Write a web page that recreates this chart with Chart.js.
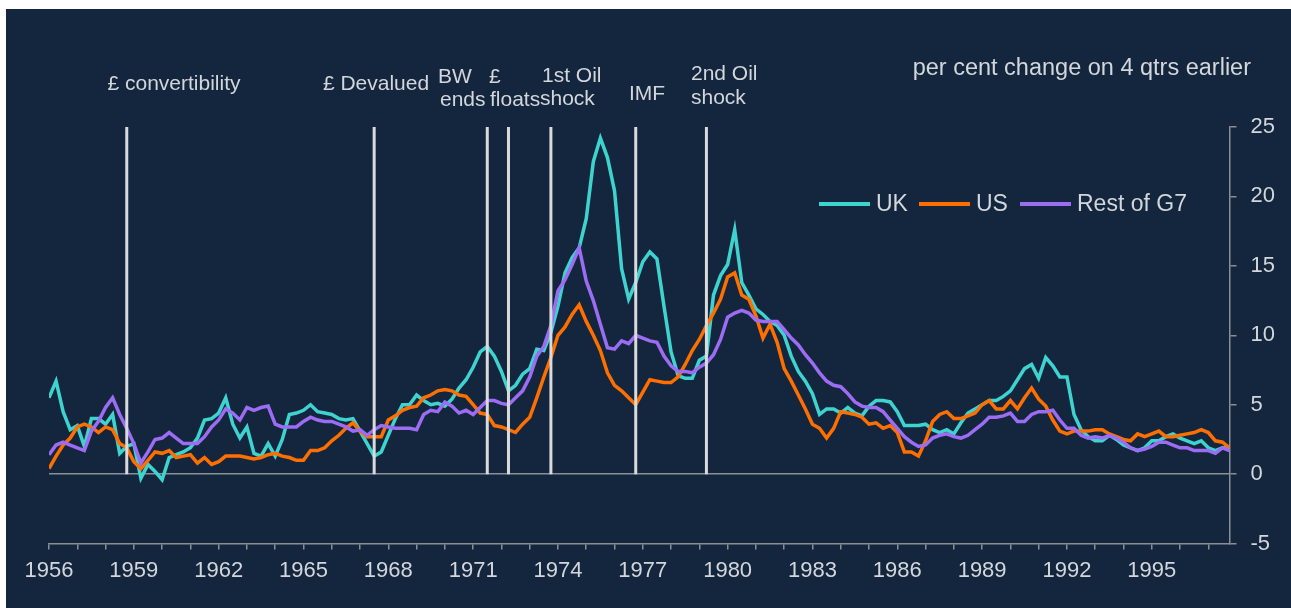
<!DOCTYPE html>
<html>
<head>
<meta charset="utf-8">
<title>Inflation: UK, US and rest of G7</title>
<script src="https://cdn.jsdelivr.net/npm/chart.js@4.4.1/dist/chart.umd.min.js"></script>
<style>
  html, body { margin: 0; padding: 0; background: #ffffff; }
  #panel { position: absolute; left: 6px; top: 9px; width: 1285px; height: 599px; background: #13263e; }
</style>
</head>
<body>
<div id="panel"><canvas id="chart-area" width="1285" height="599"></canvas></div>
<script>
// quarterly data, 1956 Q1 to 1997 Q4, per cent change on 4 qtrs earlier
var startYear = 1956;

var ukValues = [
  5.5, 6.7, 4.5, 3.2,   3.5, 2.0, 4.0, 4.0,   3.6, 4.3, 1.5, 2.0,   2.2, -0.3, 0.7, 0.2,
  -0.4, 1.2, 1.4, 1.6,  1.9, 2.6, 3.9, 4.0,   4.4, 5.5, 3.6, 2.6,   3.4, 1.5, 1.3, 2.2,
  1.3, 2.5, 4.3, 4.4,   4.6, 5.0, 4.5, 4.4,   4.3, 4.0, 3.9, 4.0,   3.1, 2.2, 1.3, 1.6,
  2.8, 4.0, 5.0, 5.0,   5.7, 5.3, 5.0, 5.1,   4.9, 5.4, 6.2, 6.8,   7.7, 8.8, 9.2, 8.5,
  7.4, 6.0, 6.4, 7.2,   7.6, 9.0, 8.9, 10.2,  12.1, 14.5, 15.6, 16.3, 18.4, 22.5, 24.2, 22.8,
  20.4, 14.8, 12.6, 13.8, 15.3, 16.0, 15.5, 12.1, 8.8, 7.1, 6.9, 6.9, 8.2, 8.5, 12.9, 14.3,
  15.1, 17.6, 13.8, 12.9, 11.9, 11.5, 11.0, 10.7, 10.0, 8.5, 7.4, 6.7, 5.8, 4.3, 4.7, 4.7,
  4.4, 4.8, 4.4, 4.2,   4.9, 5.3, 5.3, 5.2,   4.5, 3.5, 3.5, 3.5,   3.6, 3.2, 3.0, 3.2,
  2.9, 3.7, 4.4, 4.7,   5.0, 5.3, 5.3, 5.6,   6.0, 6.8, 7.6, 7.9,   6.9, 8.4, 7.8, 7.0,
  7.0, 4.3, 3.2, 2.7,   2.4, 2.4, 2.8, 2.5,   2.1, 1.9, 1.7, 1.9,   2.4, 2.4, 2.7, 2.9,
  2.6, 2.4, 2.2, 2.4,   1.9, 1.7, 1.9, 1.9
];

var usValues = [
  0.4, 1.3, 2.1, 2.6,   3.4, 3.6, 3.4, 3.0,   3.4, 3.2, 2.2, 1.9,   0.9, 0.4, 1.0, 1.6,
  1.5, 1.7, 1.2, 1.3,   1.4, 0.8, 1.2, 0.7,   0.9, 1.3, 1.3, 1.3,   1.2, 1.1, 1.2, 1.4,
  1.5, 1.3, 1.2, 1.0,   1.0, 1.7, 1.7, 1.9,   2.4, 2.8, 3.3, 3.7,   3.1, 2.7, 2.7, 2.7,
  3.9, 4.2, 4.6, 4.8,   4.9, 5.5, 5.7, 6.0,   6.1, 6.0, 5.7, 5.6,   5.0, 4.4, 4.3, 3.5,
  3.4, 3.2, 3.0, 3.6,   4.1, 5.5, 7.0, 8.4,   10.0, 10.6, 11.5, 12.2, 11.0, 10.0, 8.9, 7.3,
  6.4, 6.0, 5.5, 5.0,   5.9, 6.8, 6.7, 6.6,   6.6, 7.0, 7.9, 8.9,   9.7, 10.7, 11.6, 12.6,
  14.2, 14.5, 12.9, 12.6, 11.4, 9.8, 10.8, 9.5, 7.6, 6.7, 5.7, 4.7,  3.6, 3.3, 2.6, 3.3,
  4.5, 4.4, 4.3, 4.1,   3.6, 3.7, 3.3, 3.5,   3.0, 1.6, 1.6, 1.3,   2.4, 3.8, 4.3, 4.5,
  4.0, 4.0, 4.2, 4.4,   5.0, 5.3, 4.7, 4.7,   5.3, 4.7, 5.5, 6.2,   5.4, 4.9, 3.9, 3.1,
  2.9, 3.1, 3.1, 3.1,   3.2, 3.2, 2.9, 2.7,   2.5, 2.4, 2.9, 2.7,   2.9, 3.1, 2.7, 2.7,
  2.8, 2.9, 3.0, 3.2,   3.0, 2.4, 2.3, 1.9
];

var g7Values = [
  1.4, 2.1, 2.3, 2.1,   1.9, 1.7, 3.1, 3.8,   4.8, 5.5, 4.3, 3.3,   2.2, 0.8, 1.6, 2.5,
  2.6, 3.0, 2.6, 2.2,   2.2, 2.2, 2.7, 3.4,   3.9, 4.7, 4.4, 3.9,   4.8, 4.6, 4.8, 4.9,
  3.6, 3.4, 3.4, 3.4,   3.8, 4.1, 3.9, 3.8,   3.8, 3.6, 3.4, 3.1,   3.2, 2.8, 3.2, 3.5,
  3.4, 3.3, 3.3, 3.3,   3.2, 4.3, 4.6, 4.5,   5.2, 4.9, 4.4, 4.6,   4.3, 4.8, 5.3, 5.3,
  5.1, 5.0, 5.5, 6.0,   7.0, 8.5, 9.2, 10.7,  13.2, 14.0, 15.1, 16.3, 13.9, 12.5, 10.8, 9.1,
  9.0, 9.6, 9.4, 10.0,  9.8, 9.6, 9.5, 8.5,   7.8, 7.4, 7.4, 7.3,   7.7, 8.0, 8.6, 9.7,
  11.3, 11.6, 11.8, 11.6, 11.1, 11.0, 11.0, 11.0, 10.4, 9.8, 9.3, 8.6, 8.0, 7.3, 6.7, 6.4,
  6.3, 5.8, 5.2, 4.9,   4.8, 4.8, 4.5, 3.9,   3.3, 2.7, 2.3, 2.0,   2.1, 2.6, 2.8, 2.9,
  2.7, 2.6, 2.8, 3.2,   3.6, 4.1, 4.1, 4.2,   4.4, 3.8, 3.8, 4.3,   4.5, 4.5, 4.6, 3.9,
  3.3, 3.3, 2.8, 2.6,   2.7, 2.6, 2.8, 2.6,   2.3, 1.9, 1.7, 1.8,   2.0, 2.3, 2.3, 2.1,
  1.9, 1.9, 1.7, 1.7,   1.7, 1.5, 1.9, 1.7
];

var seriesNames = ['UK', 'US', 'Rest of G7'];

// events, as year fractions (quarter positions)
var eventDates = [1958.75, 1967.5, 1971.5, 1972.25, 1973.75, 1976.75, 1979.25];
var eventLabels = [['£ convertibility'], ['£ Devalued'], ['BW', 'ends'], ['£', 'floats'],
                   ['1st Oil', 'shock'], ['IMF'], ['2nd Oil', 'shock']];

var yTicksMin = -5, yTicksMax = 25, yStep = 5;
var unitLabel = 'per cent change on 4 qtrs earlier';

var quarters = ukValues.map(function (v, i) { return startYear + i / 4; });
function pairs(vals) {
  return vals.map(function (v, i) { return { x: quarters[i], y: v }; });
}

var textColor = '#d3d6db';
var axisColor = '#8a8f96';
var colors = ['#3fd3d0', '#ff6f00', '#9c6cf3'];
var fontFamily = '"Liberation Sans", Arial, sans-serif';

var datasets = [];
// event markers, drawn on top
eventDates.forEach(function (d) {
  datasets.push({
    data: [{ x: d, y: 0 }, { x: d, y: yTicksMax }],
    borderColor: '#d9dadc', borderWidth: 3, pointRadius: 0, order: 0
  });
});
[ukValues, usValues, g7Values].forEach(function (vals, k) {
  datasets.push({
    label: seriesNames[k],
    data: pairs(vals),
    borderColor: colors[k], backgroundColor: colors[k],
    borderWidth: 3.5, pointRadius: 0, tension: 0, order: 3 - k
  });
});

// where the annotation lines sit (canvas px): [x, baseline y, align]
var labelSpots = [
  [[168, 81, 'center']],
  [[370, 81, 'center']],
  [[432, 74, 'left'], [434, 97, 'left']],
  [[483, 74, 'left'], [484, 97, 'left']],
  [[536, 73, 'left'], [534, 96, 'left']],
  [[623, 91, 'left']],
  [[685, 71, 'left'], [685, 95, 'left']]
];

var decor = {
  id: 'decor',
  afterDraw: function (chart) {
    var ctx = chart.ctx;
    ctx.save();
    ctx.fillStyle = textColor;
    ctx.textBaseline = 'alphabetic';
    ctx.font = '21px ' + fontFamily;
    eventLabels.forEach(function (lines, i) {
      lines.forEach(function (t, j) {
        var s = labelSpots[i][j];
        ctx.textAlign = s[2];
        ctx.fillText(t, s[0], s[1]);
      });
    });

    ctx.font = '23.5px ' + fontFamily;
    ctx.textAlign = 'right';
    ctx.textBaseline = 'middle';
    ctx.fillText(unitLabel, 1245, 60);

    // legend
    var lx = [813, 913, 1014];
    ctx.textAlign = 'left';
    ctx.font = '23px ' + fontFamily;
    seriesNames.forEach(function (n, k) {
      ctx.strokeStyle = colors[k];
      ctx.lineWidth = 4;
      ctx.beginPath();
      ctx.moveTo(lx[k], 195);
      ctx.lineTo(lx[k] + 51, 195);
      ctx.stroke();
      ctx.fillText(n, lx[k] + 57, 196);
    });
    ctx.restore();
  }
};

var config = {
  type: 'line',
  data: { datasets: datasets },
  options: {
    responsive: false,
    animation: false,
    devicePixelRatio: 1,
    layout: { padding: { top: 118, left: 43, right: 2, bottom: 16 } },
    plugins: { legend: { display: false }, tooltip: { enabled: false } },
    scales: {
      x: {
        type: 'linear',
        min: startYear,
        max: quarters[quarters.length - 1],
        border: { color: axisColor, width: 1.5 },
        grid: { drawOnChartArea: false, tickLength: 6, color: axisColor, lineWidth: 1.5 },
        ticks: {
          stepSize: 1, autoSkip: false, includeBounds: false, maxRotation: 0,
          color: textColor, padding: 8,
          font: { family: fontFamily, size: 22 },
          callback: function (v) {
            var y = Math.round(v);
            return (y - startYear) % 3 === 0 ? String(y) : '';
          }
        }
      },
      y: {
        position: 'right',
        min: yTicksMin,
        max: yTicksMax,
        border: { color: axisColor, width: 1.5 },
        grid: {
          color: function (c) { return c.tick && c.tick.value === 0 ? axisColor : 'transparent'; },
          tickColor: axisColor, tickLength: 7, lineWidth: 1.5
        },
        ticks: {
          stepSize: yStep, color: textColor, padding: 14,
          font: { family: fontFamily, size: 22 }
        }
      }
    }
  },
  plugins: [decor]
};

var ctx = document.getElementById('chart-area');
window.inflationChart = new Chart(ctx, config);
</script>
</body>
</html>
